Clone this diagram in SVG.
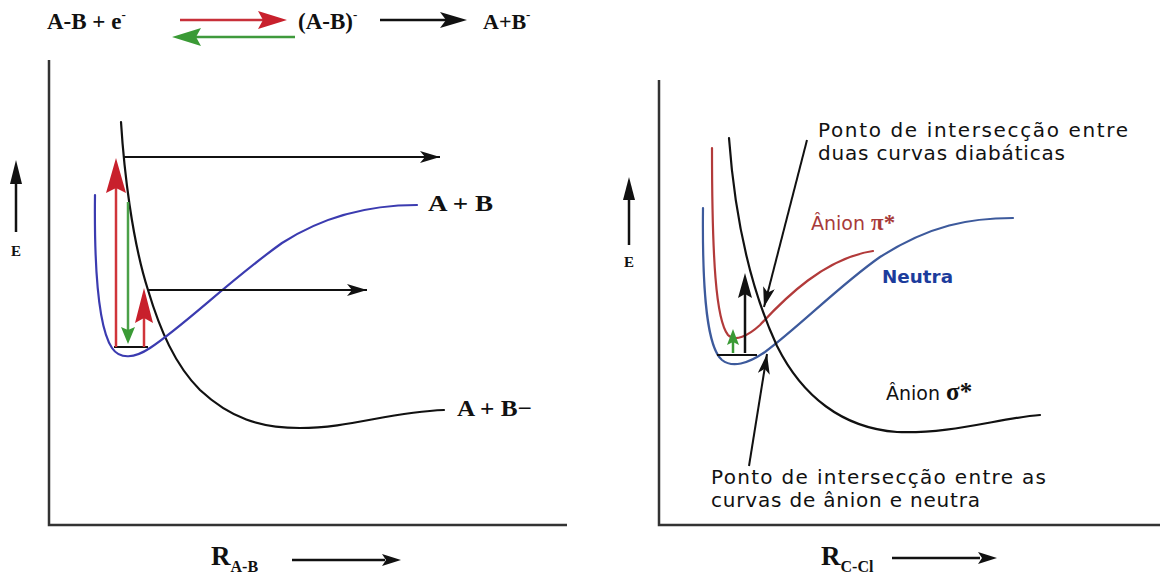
<svg xmlns="http://www.w3.org/2000/svg" width="1162" height="574" viewBox="0 0 1162 574">
<defs>
<style>
.ax{stroke:#333;stroke-width:2.5;fill:none}
.crv{fill:none;stroke-width:2.2;stroke-linecap:round}
.blk{stroke:#111}
.blu{stroke:#3b3bb0}
.blu2{stroke:#3d5a9c}
.red2{stroke:#b23a3a}
.arr{stroke:#111;stroke-width:2;fill:none}
.tb{font-family:"Liberation Serif","Times New Roman",serif;font-weight:bold;fill:#111}
.ts{font-family:"DejaVu Sans",Verdana,sans-serif;font-size:20px;fill:#111}
</style>
<marker id="ah" viewBox="0 0 20 12" refX="20" refY="6" markerWidth="20" markerHeight="12" markerUnits="userSpaceOnUse" orient="auto">
<path d="M0,0 L20,6 L0,12 L5,6 z" fill="#111"/>
</marker>
</defs>
<rect width="1162" height="574" fill="#fff"/>

<g id="equation">
<text class="tb" x="47" y="29" font-size="23">A-B + e<tspan font-size="13" dy="-10">-</tspan></text>
<line x1="180" y1="20" x2="265" y2="20" stroke="#c8303a" stroke-width="2.5"/>
<polygon points="287,20 258,11 263,20 258,29" fill="#c8202c"/>
<line x1="295" y1="37" x2="195" y2="37" stroke="#3f9a3c" stroke-width="2.5"/>
<polygon points="172,37 201,28 196,37 201,46" fill="#3a9a35"/>
<text class="tb" x="298" y="29" font-size="23">(A-B)<tspan font-size="13" dy="-10">-</tspan></text>
<line x1="380" y1="20" x2="450" y2="20" stroke="#111" stroke-width="2.5"/>
<polygon points="467,20 440,12 446,20 440,28" fill="#111"/>
<text class="tb" x="483" y="29" font-size="22">A+B<tspan font-size="13" dy="-10">-</tspan></text>
</g>

<g id="left-axes">
<polyline class="ax" points="49,60 49,525 567,525"/>
<line x1="16" y1="232" x2="16" y2="178" stroke="#111" stroke-width="2.5"/>
<polygon points="16,160 10,184 22,184" fill="#111"/>
<text class="tb" x="16" y="256" font-size="15" text-anchor="middle">E</text>
<text class="tb" x="211" y="565" font-size="27">R<tspan font-size="16" dy="7">A-B</tspan></text>
<line x1="292" y1="560" x2="385" y2="560" stroke="#111" stroke-width="2.5"/>
<polygon points="401,560 382,554 386,560 382,566" fill="#111"/>
</g>

<g id="left-curves">
<path class="crv blk" d="M121,122 C124,170 132,240 148,290 C160,330 175,365 200,390 C230,418 260,428 300,428 C350,428 390,412 444,410"/>
<path class="crv blu" d="M95,195 C94,280 100,330 112,348 C120,360 135,358 150,348 C185,325 230,280 282,243 C330,212 380,205 417,205"/>
<line x1="114" y1="347" x2="148" y2="347" stroke="#111" stroke-width="2"/>
</g>

<g id="left-labels">
<text class="tb" x="428" y="211" font-size="23" textLength="65" lengthAdjust="spacingAndGlyphs">A + B</text>
<text class="tb" x="457" y="416" font-size="23" textLength="75" lengthAdjust="spacingAndGlyphs">A + B−</text>
</g>

<g id="left-transitions">
<line x1="116" y1="347" x2="116" y2="185" stroke="#d0343a" stroke-width="2.5"/>
<polygon points="116,158 106,193 116,188 126,193" fill="#c8202c"/>
<line x1="128" y1="202" x2="128" y2="332" stroke="#4aa048" stroke-width="2.5"/>
<polygon points="128,344 121,327 128,330 135,327" fill="#3a9a35"/>
<line x1="144" y1="347" x2="144" y2="315" stroke="#d0343a" stroke-width="2.5"/>
<polygon points="144,288 135,323 144,318 153,323" fill="#c8202c"/>
</g>

<g id="connectors">
<line class="arr" x1="124" y1="157" x2="440" y2="157" marker-end="url(#ah)"/>
<line class="arr" x1="148" y1="290" x2="367" y2="290" marker-end="url(#ah)"/>
<line class="arr" x1="807" y1="140" x2="764" y2="307" marker-end="url(#ah)"/>
<line class="arr" x1="749" y1="466" x2="767" y2="354" marker-end="url(#ah)"/>
</g>

<g id="right-axes">
<polyline class="ax" points="659,80 659,525 1160,525"/>
<line x1="629" y1="245" x2="629" y2="196" stroke="#111" stroke-width="2.5"/>
<polygon points="629,177 623,200 635,200" fill="#111"/>
<text class="tb" x="629" y="267" font-size="15" text-anchor="middle">E</text>
<text class="tb" x="821" y="565" font-size="27">R<tspan font-size="16" dy="7">C-Cl</tspan></text>
<line x1="892" y1="558" x2="980" y2="558" stroke="#111" stroke-width="2.5"/>
<polygon points="997,558 978,552 982,558 978,564" fill="#111"/>
</g>

<g id="right-curves">
<path class="crv blu2" d="M703,208 C702,300 708,348 722,360 C732,368 748,364 765,352 C800,326 840,285 880,257 C930,225 970,218 1013,218"/>
<path class="crv red2" d="M712,148 C712,260 716,320 728,335 C735,342 748,336 760,325 C785,298 825,258 873,251"/>
<path class="crv blk" d="M729,138 C735,220 752,292 777,346 C802,396 842,428 897,432 C952,434 1000,418 1040,415"/>
<line x1="717" y1="355" x2="757" y2="355" stroke="#111" stroke-width="2"/>
</g>

<g id="right-transitions">
<line x1="745" y1="353" x2="745" y2="290" stroke="#111" stroke-width="2.5"/>
<polygon points="745,273 738,298 745,294 752,298" fill="#111"/>
<line x1="733" y1="353" x2="733" y2="338" stroke="#3a9a35" stroke-width="2.5"/>
<polygon points="733,329 727,345 733,342 739,345" fill="#3a9a35"/>
</g>

<g id="label-diabatic">
<text class="ts" x="818" y="137" textLength="310" lengthAdjust="spacing">Ponto de intersecção  entre</text>
<text class="ts" x="818" y="160" textLength="247" lengthAdjust="spacing">duas curvas diabáticas</text>
</g>

<g id="label-pi">
<text class="ts" x="811" y="230" style="fill:#a83a3a;font-size:19px">Ânion <tspan font-family="Liberation Serif, serif" font-weight="bold" font-size="23">π*</tspan></text>
</g>

<g id="label-neutra">
<text class="ts" x="882" y="283" font-weight="bold" style="fill:#1c3c9c;font-size:18px" textLength="71" lengthAdjust="spacingAndGlyphs">Neutra</text>
</g>

<g id="label-sigma">
<text class="ts" x="886" y="400" style="font-size:19px">Ânion <tspan font-family="Liberation Serif, serif" font-weight="bold" font-size="25">σ*</tspan></text>
</g>

<g id="label-anion-neutral">
<text class="ts" x="711" y="484" textLength="335" lengthAdjust="spacing">Ponto de intersecção entre as</text>
<text class="ts" x="711" y="507" textLength="269" lengthAdjust="spacing">curvas de ânion e neutra</text>
</g>
</svg>
